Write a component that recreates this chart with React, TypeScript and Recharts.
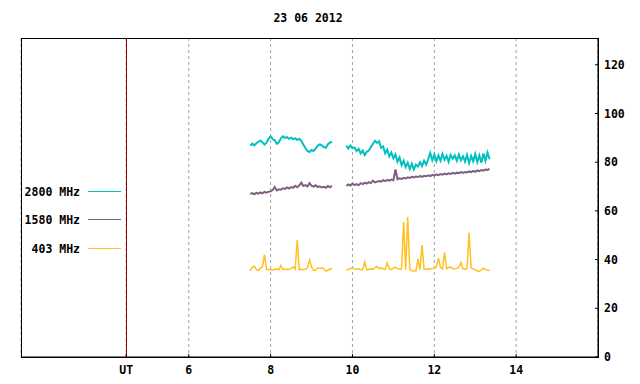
import { LineChart, Line, XAxis, YAxis, CartesianGrid, ReferenceLine, ReferenceArea } from "recharts"

const title = "23 06 2012"
const step = 0.05
const seg1Start = 7.5
const seg2Start = 9.85
const gapHour = 9.67
const utHour = 4.47
const hourDomain = [1.9, 16]
const valueDomain = [0, 131]
const hourTicks = [utHour, 6, 8, 10, 12, 14]
const valueTicks = [0, 20, 40, 60, 80, 100, 120]

const series = [
  { key: "f2800", label: "2800 MHz", color: "#00c0c0", width: 2 },
  { key: "f1580", label: "1580 MHz", color: "#7f5f80", width: 2 },
  { key: "f403", label: "403 MHz", color: "#ffc020", width: 1.5 },
]

// first block 7.50 - 9.50 UT
const f2800a = [
  86.8, 87.6, 86.9, 87.8, 88.3, 88.9, 88.2, 87.2, 88.0, 89.6,
  90.6, 89.5, 89.0, 87.6, 88.2, 89.8, 90.6, 90.0, 90.3, 89.6,
  90.1, 89.5, 89.8, 89.2, 89.6, 88.8, 87.2, 85.8, 84.6, 84.2,
  85.0, 84.6, 85.6, 86.8, 87.3, 86.9, 86.2, 85.9, 87.4, 88.0,
  88.4,
]
const f1580a = [
  67.0, 67.3, 66.8, 67.4, 67.1, 67.6, 67.2, 67.8, 67.5, 67.9,
  68.0, 68.6, 69.8, 68.4, 68.9, 68.7, 69.3, 69.0, 69.6, 69.2,
  69.8, 69.5, 70.3, 69.7, 70.4, 71.6, 70.2, 70.6, 70.1, 71.4,
  70.4, 70.0, 70.5, 69.8, 70.1, 69.6, 69.9, 69.5, 70.2, 69.7,
  70.3,
]
const f403a = [
  35.4, 36.8, 37.3, 36.0, 35.6, 36.5, 37.0, 42.0, 36.0, 35.8,
  36.0, 35.7, 35.9, 36.1, 35.8, 37.6, 35.9, 36.2, 35.8, 36.0,
  36.3, 37.0, 36.1, 48.0, 35.9, 36.0, 35.8, 36.1, 36.6, 39.8,
  37.0, 35.5, 35.6, 36.6, 36.4, 36.5, 36.2, 35.3, 35.6, 36.2,
  36.1,
]

// second block 9.85 - 13.35 UT
const f2800b = [
  86.8, 85.6, 86.9, 85.8, 86.0, 84.6, 85.5, 83.6, 84.8, 82.9,
  84.3, 84.8, 86.2, 87.6, 88.8, 87.9, 88.6, 85.9, 86.5, 83.6,
  85.2, 82.4, 84.0, 81.6, 83.2, 80.2, 82.0, 78.8, 80.6, 78.0,
  79.8, 77.2, 79.4, 77.0, 79.0, 78.2, 80.0, 78.4, 80.6, 79.0,
  81.2, 83.8, 80.8, 83.2, 80.4, 82.8, 80.6, 83.4, 81.0, 82.6,
  80.2, 83.0, 81.4, 82.8, 80.6, 83.2, 80.8, 82.4, 80.2, 83.0,
  79.6, 82.6, 80.4, 83.4, 80.0, 82.8, 79.8, 83.6, 80.6, 84.0,
  81.2,
]
const f1580b = [
  70.2, 70.9, 70.4, 71.2, 70.6, 71.0, 70.5, 71.4, 71.0, 71.6,
  71.2, 71.8, 71.4, 72.4, 71.7, 72.0, 72.3, 72.0, 72.6, 72.2,
  72.7, 72.4, 72.9, 72.6, 77.0, 73.0, 73.4, 73.1, 73.6, 73.3,
  73.8, 73.5, 74.0, 73.7, 74.1, 73.9, 74.3, 74.0, 74.4, 74.2,
  74.6, 74.3, 74.8, 74.5, 75.0, 74.7, 75.1, 74.9, 75.3, 75.0,
  75.4, 75.2, 75.6, 75.3, 75.7, 75.5, 75.9, 75.6, 76.0, 75.8,
  76.2, 75.9, 76.4, 76.0, 76.6, 76.3, 76.8, 76.5, 77.0, 76.8,
  77.3,
]
const f403b = [
  35.6, 36.0, 36.4, 36.5, 36.3, 36.0, 36.2, 35.8, 35.9, 39.0,
  35.7, 36.0, 36.1, 36.0, 36.6, 37.2, 36.3, 36.6, 36.2, 36.0,
  38.6, 36.2, 35.9, 36.6, 36.8, 36.3, 36.0, 36.2, 55.4, 35.8,
  57.5, 36.0, 35.4, 35.3, 35.4, 40.2, 35.9, 46.0, 36.0, 36.0,
  36.2, 36.1, 36.3, 36.4, 37.0, 40.6, 36.8, 36.2, 43.0, 36.2,
  36.8, 36.9, 36.3, 36.1, 36.4, 36.7, 38.8, 36.2, 36.0, 36.4,
  51.0, 36.5, 36.3, 35.8, 35.3, 35.2, 35.8, 36.5, 36.0, 35.6,
  35.5,
]

type Row = { t: number; f2800: number | null; f1580: number | null; f403: number | null }

function block(start: number, a: number[], b: number[], c: number[]): Row[] {
  return a.map((v, i) => ({
    t: Math.round((start + i * step) * 100) / 100,
    f2800: v,
    f1580: b[i],
    f403: c[i],
  }))
}

const data: Row[] = [
  ...block(seg1Start, f2800a, f1580a, f403a),
  { t: gapHour, f2800: null, f1580: null, f403: null },
  ...block(seg2Start, f2800b, f1580b, f403b),
]

const font = "'DejaVu Sans Mono', monospace"
const tickStyle = { fontFamily: font, fontSize: 11.5, fontWeight: "bold", fill: "#000" }

export default function App() {
  return (
    <div style={{ position: "relative", width: 640, height: 384, background: "#fff" }}>
      <style>{"body{margin:0}"}</style>
      <div
        style={{
          position: "absolute", left: 0, width: 616, top: 10, textAlign: "center",
          fontFamily: font, fontSize: 11.5, fontWeight: "bold", lineHeight: "16px",
        }}
      >
        {title}
      </div>
      <LineChart width={640} height={384} data={data} margin={{ top: 38, left: 21, right: 0, bottom: 0 }}>
        <CartesianGrid horizontal={false} stroke="#a0a0a0" strokeDasharray="3 3" />
        <XAxis
          dataKey="t"
          type="number"
          domain={hourDomain}
          ticks={hourTicks}
          tickFormatter={(v: number) => (v === utHour ? "UT" : String(v))}
          height={27}
          tickSize={-3}
          tickMargin={12}
          tick={tickStyle}
          axisLine={{ stroke: "#000" }}
          tickLine={{ stroke: "#000" }}
          interval={0}
        />
        <YAxis
          orientation="right"
          domain={valueDomain}
          ticks={valueTicks}
          width={42}
          tickSize={-3}
          tickMargin={9}
          tick={tickStyle}
          axisLine={{ stroke: "#000" }}
          tickLine={{ stroke: "#000" }}
          interval={0}
        />
        <ReferenceArea
          x1={hourDomain[0]}
          x2={hourDomain[1]}
          y1={valueDomain[0]}
          y2={valueDomain[1]}
          fill="#fff"
          fillOpacity={0}
          stroke="#000"
          strokeWidth={1}
          shapeRendering="crispEdges"
        />
        <ReferenceLine x={utHour} stroke="#8b0000" shapeRendering="crispEdges" />
        {series.map((s) => (
          <Line
            key={s.key}
            dataKey={s.key}
            stroke={s.color}
            strokeWidth={s.width}
            dot={false}
            isAnimationActive={false}
            type="linear"
          />
        ))}
      </LineChart>
      {series.map((s, i) => (
        <div key={s.key}>
          <div
            style={{
              position: "absolute", right: 560, top: [184, 212, 241][i], whiteSpace: "pre",
              fontFamily: font, fontSize: 11.5, fontWeight: "bold", lineHeight: "16px",
            }}
          >
            {s.label}
          </div>
          <div
            style={{
              position: "absolute", left: 88, width: 33, height: 1,
              top: [191, 219, 248][i], background: s.color,
            }}
          />
        </div>
      ))}
    </div>
  )
}
